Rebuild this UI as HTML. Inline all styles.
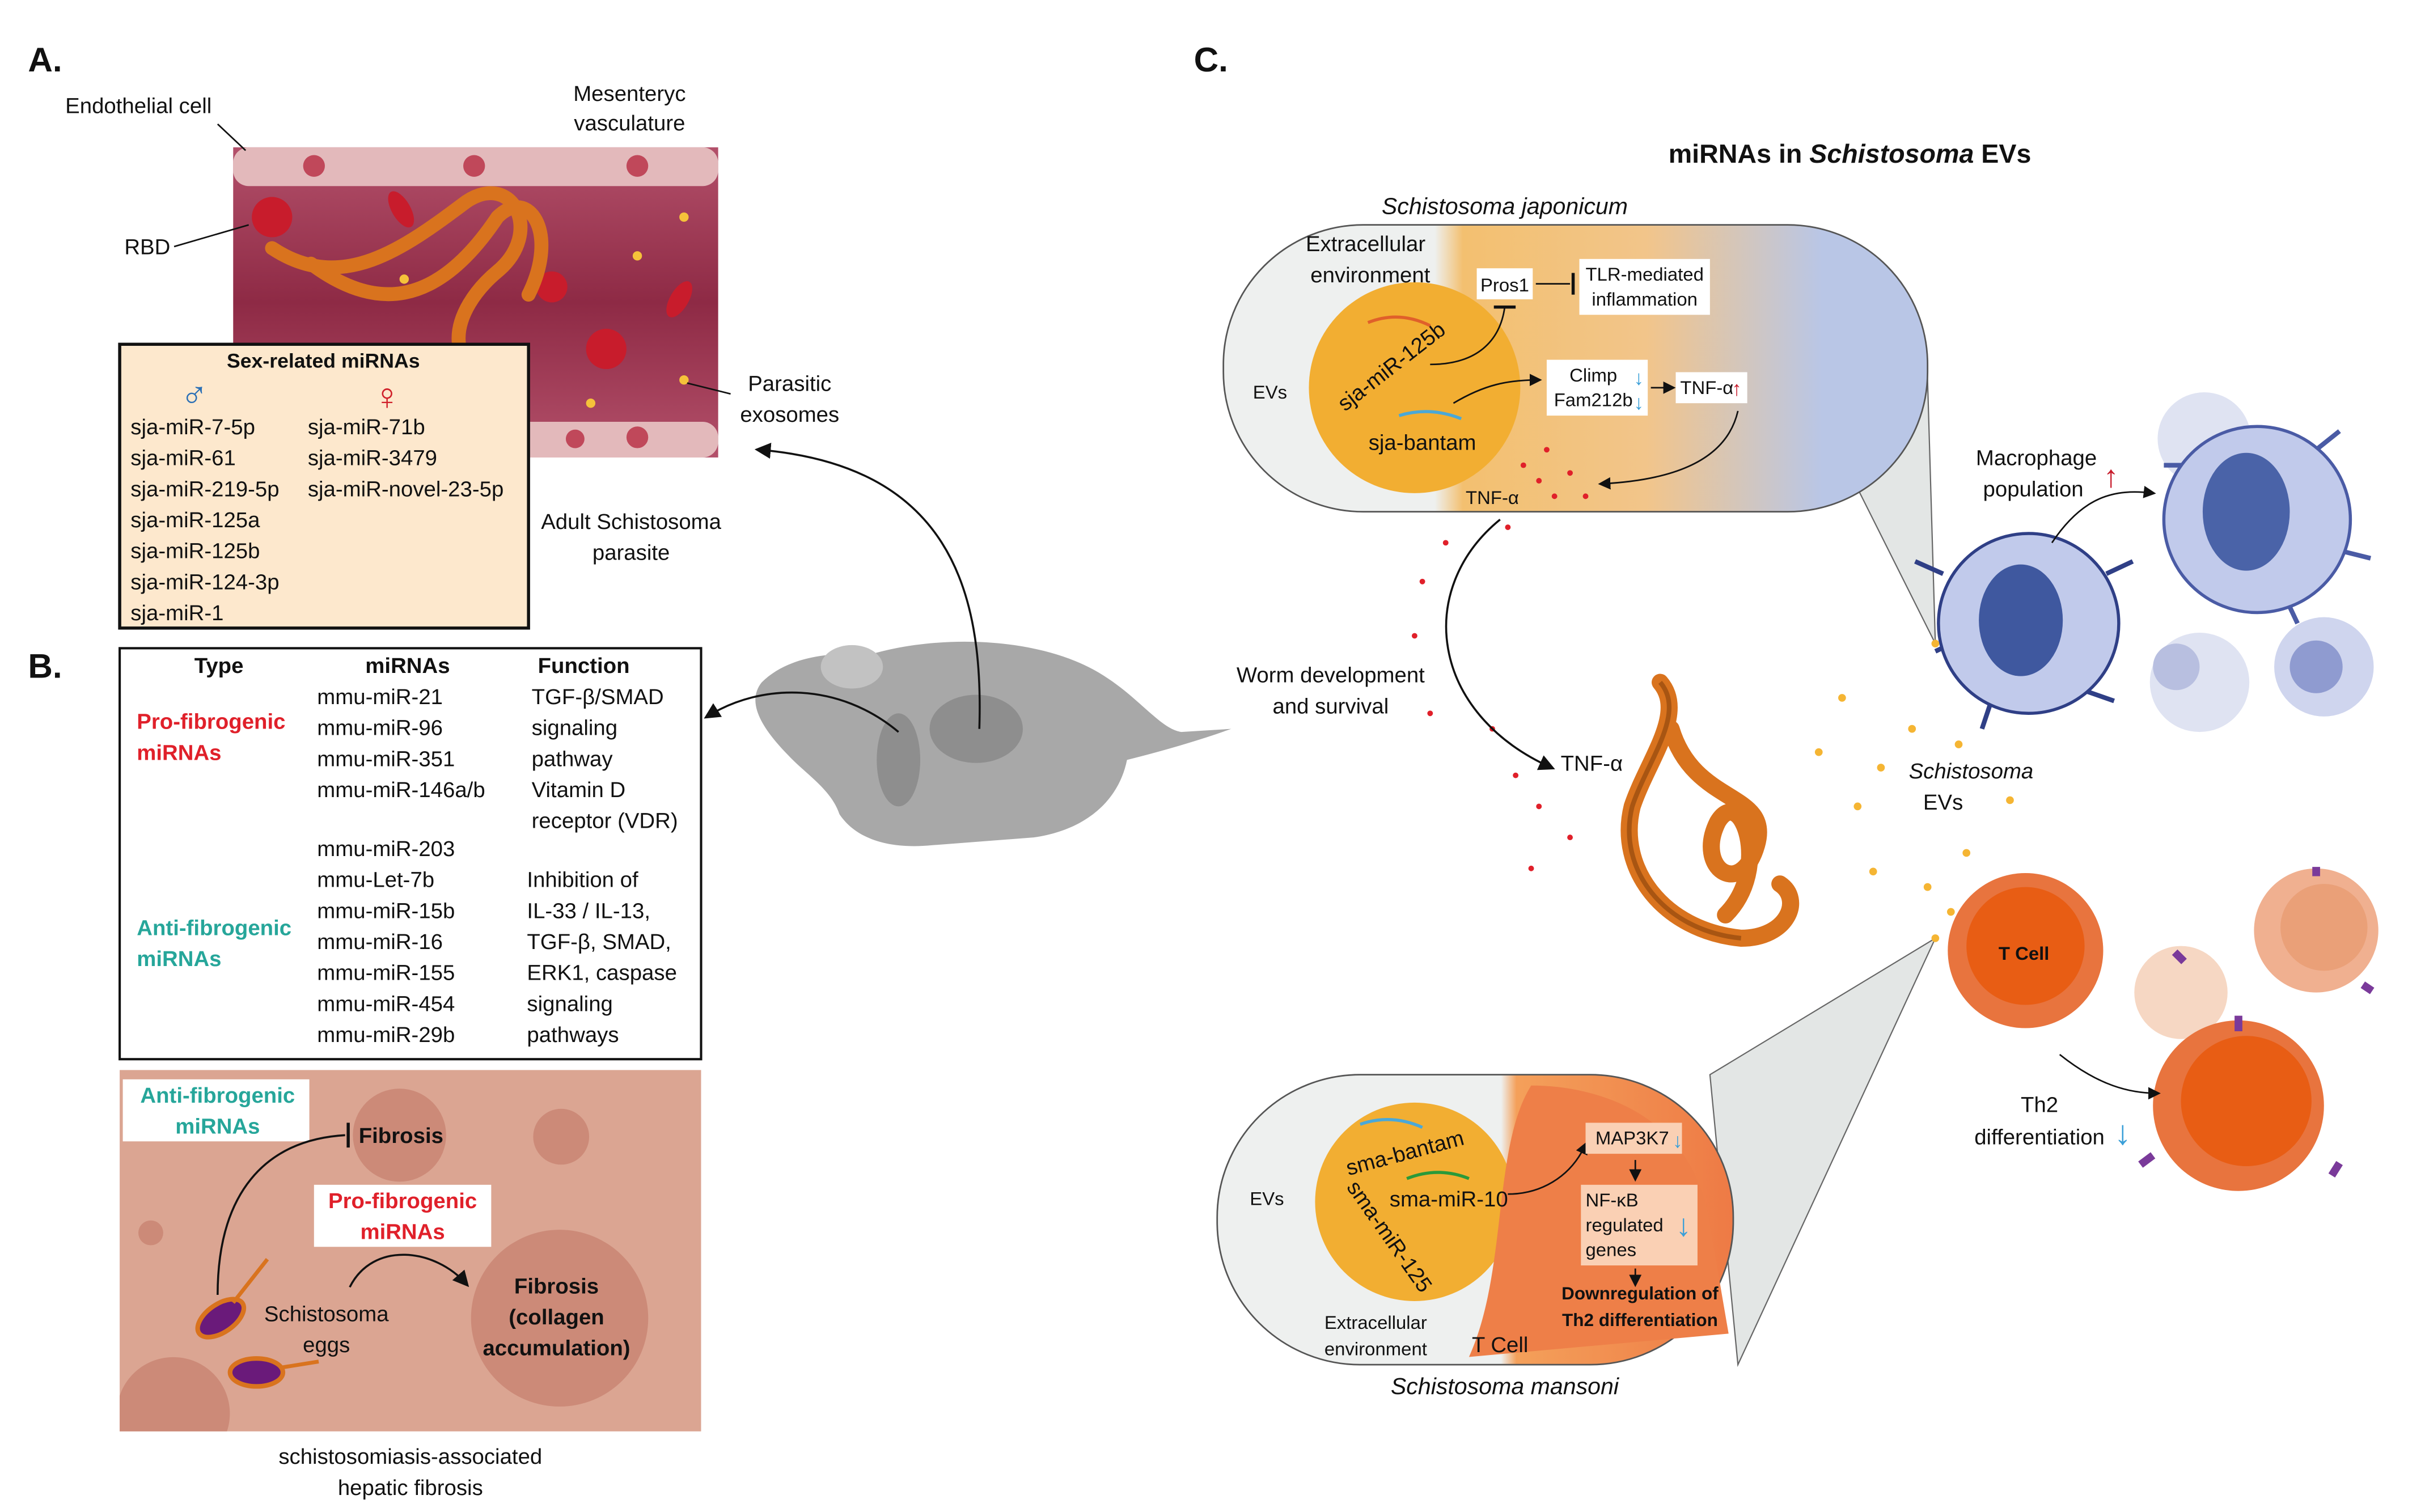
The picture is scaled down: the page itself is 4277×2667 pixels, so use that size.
<!DOCTYPE html>
<html><head><meta charset="utf-8"><style>
html,body{margin:0;padding:0;background:#fff;width:4277px;height:2667px;overflow:hidden}
svg{display:block}
text{font-family:"Liberation Sans",sans-serif;fill:#111}
</style></head><body>
<svg width="4277" height="2667" viewBox="0 0 1560 975" preserveAspectRatio="none" xmlns="http://www.w3.org/2000/svg">
<defs>
<linearGradient id="ves" x1="0" y1="0" x2="0" y2="1"><stop offset="0" stop-color="#b3506a"/><stop offset=".5" stop-color="#8e2a45"/><stop offset="1" stop-color="#b3506a"/></linearGradient>
<linearGradient id="top" x1="0" y1="0" x2="1" y2="0"><stop offset="0" stop-color="#eef0ef"/><stop offset=".3" stop-color="#eef0ef"/><stop offset=".34" stop-color="#f3c070"/><stop offset=".6" stop-color="#f2c58a"/><stop offset=".85" stop-color="#b9c6e6"/><stop offset="1" stop-color="#b9c6e6"/></linearGradient>
<linearGradient id="bot" x1="0" y1="0" x2="1" y2="0"><stop offset="0" stop-color="#eef0ef"/><stop offset=".55" stop-color="#eef0ef"/><stop offset=".58" stop-color="#f4a05a"/><stop offset="1" stop-color="#ee7a45"/></linearGradient>
<marker id="ar" markerWidth="8" markerHeight="8" refX="6" refY="4" orient="auto"><path d="M0,0 L8,4 L0,8 Z" fill="#111"/></marker>
</defs>

<text x="18" y="46" font-size="22" font-weight="bold">A.</text>
<text x="18" y="437" font-size="22" font-weight="bold">B.</text>
<text x="768" y="46" font-size="22" font-weight="bold">C.</text>

<!-- Vessel A -->
<rect x="150" y="95" width="312" height="200" fill="url(#ves)"/>
<rect x="150" y="95" width="312" height="25" rx="10" fill="#e3b9bb"/>
<rect x="150" y="272" width="312" height="23" rx="10" fill="#e3b9bb"/>
<circle cx="202" cy="107" r="7" fill="#c0485a"/><circle cx="305" cy="107" r="7" fill="#c0485a"/><circle cx="410" cy="107" r="7" fill="#c0485a"/>
<circle cx="410" cy="282" r="7" fill="#c0485a"/><circle cx="370" cy="283" r="6" fill="#c0485a"/>
<circle cx="175" cy="140" r="13" fill="#c81c2c"/><circle cx="390" cy="225" r="13" fill="#c81c2c"/><circle cx="355" cy="185" r="10" fill="#c81c2c"/>
<ellipse cx="258" cy="135" rx="6" ry="13" fill="#c81c2c" transform="rotate(-30 258 135)"/>
<ellipse cx="437" cy="193" rx="6" ry="13" fill="#c81c2c" transform="rotate(30 437 193)"/>
<path d="M175,160 C220,190 260,160 300,130 C330,110 350,150 320,175 C290,200 280,240 330,250 M200,170 C240,200 280,200 320,140 C340,120 360,150 340,190" stroke="#d9731e" stroke-width="9" fill="none" stroke-linecap="round"/>
<circle cx="440" cy="140" r="3" fill="#f5c23a"/><circle cx="410" cy="165" r="3" fill="#f5c23a"/><circle cx="260" cy="180" r="3" fill="#f5c23a"/><circle cx="440" cy="245" r="3" fill="#f5c23a"/><circle cx="380" cy="260" r="3" fill="#f5c23a"/>
<text x="42" y="73" font-size="14">Endothelial cell</text>
<line x1="140" y1="80" x2="158" y2="97" stroke="#111"/>
<text x="405" y="65" font-size="14" text-anchor="middle">Mesenteryc</text>
<text x="405" y="84" font-size="14" text-anchor="middle">vasculature</text>
<text x="80" y="164" font-size="14">RBD</text>
<line x1="112" y1="159" x2="160" y2="145" stroke="#111"/>
<text x="508" y="252" font-size="14" text-anchor="middle">Parasitic</text>
<text x="508" y="272" font-size="14" text-anchor="middle">exosomes</text>
<line x1="442" y1="247" x2="470" y2="254" stroke="#111"/>
<text x="406" y="341" font-size="14" text-anchor="middle">Adult Schistosoma</text>
<text x="406" y="361" font-size="14" text-anchor="middle">parasite</text>

<rect x="77" y="222" width="263" height="183" fill="#fde8cd" stroke="#111" stroke-width="2"/>
<text x="208" y="237" font-size="13" font-weight="bold" text-anchor="middle">Sex-related miRNAs</text>
<text x="116" y="262" font-size="24" font-weight="bold" style="fill:#2a6fb5">♂</text>
<text x="240" y="264" font-size="24" font-weight="bold" style="fill:#d0202a">♀</text>
<g font-size="14">
<text x="84" y="280">sja-miR-7-5p</text><text x="84" y="300">sja-miR-61</text><text x="84" y="320">sja-miR-219-5p</text><text x="84" y="340">sja-miR-125a</text><text x="84" y="360">sja-miR-125b</text><text x="84" y="380">sja-miR-124-3p</text><text x="84" y="400">sja-miR-1</text>
<text x="198" y="280">sja-miR-71b</text><text x="198" y="300">sja-miR-3479</text><text x="198" y="320">sja-miR-novel-23-5p</text>
</g>

<rect x="77" y="418" width="374" height="265" fill="#fff" stroke="#111" stroke-width="1.5"/>
<g font-size="14">
<text x="125" y="434" font-weight="bold">Type</text><text x="235" y="434" font-weight="bold">miRNAs</text><text x="346" y="434" font-weight="bold">Function</text>
<text x="88" y="470" style="fill:#e0202a" font-weight="bold">Pro-fibrogenic</text><text x="88" y="490" style="fill:#e0202a" font-weight="bold">miRNAs</text>
<text x="88" y="603" style="fill:#26a69a" font-weight="bold">Anti-fibrogenic</text><text x="88" y="623" style="fill:#26a69a" font-weight="bold">miRNAs</text>
<text x="204" y="454">mmu-miR-21</text><text x="204" y="474">mmu-miR-96</text><text x="204" y="494">mmu-miR-351</text><text x="204" y="514">mmu-miR-146a/b</text>
<text x="204" y="552">mmu-miR-203</text><text x="204" y="572">mmu-Let-7b</text><text x="204" y="592">mmu-miR-15b</text><text x="204" y="612">mmu-miR-16</text><text x="204" y="632">mmu-miR-155</text><text x="204" y="652">mmu-miR-454</text><text x="204" y="672">mmu-miR-29b</text>
<text x="342" y="454">TGF-β/SMAD</text><text x="342" y="474">signaling</text><text x="342" y="494">pathway</text><text x="342" y="514">Vitamin D</text><text x="342" y="534">receptor (VDR)</text>
<text x="339" y="572">Inhibition of</text><text x="339" y="592">IL-33 / IL-13,</text><text x="339" y="612">TGF-β, SMAD,</text><text x="339" y="632">ERK1, caspase</text><text x="339" y="652">signaling</text><text x="339" y="672">pathways</text>
</g>

<rect x="77" y="690" width="374" height="233" fill="#dba592"/>
<circle cx="257" cy="732" r="30" fill="#cc8a78"/><circle cx="361" cy="733" r="18" fill="#cc8a78"/><circle cx="97" cy="795" r="8" fill="#cc8a78"/>
<circle cx="360" cy="850" r="57" fill="#cc8a78"/>
<path d="M77,923 L77,900 A35,35 0 0 1 146,923 Z" fill="#cc8a78"/>
<rect x="79" y="696" width="120" height="40" fill="#fff"/>
<text x="140" y="711" font-size="14" font-weight="bold" text-anchor="middle" style="fill:#26a69a">Anti-fibrogenic</text>
<text x="140" y="731" font-size="14" font-weight="bold" text-anchor="middle" style="fill:#26a69a">miRNAs</text>
<rect x="202" y="764" width="114" height="40" fill="#fff"/>
<text x="259" y="779" font-size="14" font-weight="bold" text-anchor="middle" style="fill:#e0202a">Pro-fibrogenic</text>
<text x="259" y="799" font-size="14" font-weight="bold" text-anchor="middle" style="fill:#e0202a">miRNAs</text>
<text x="258" y="737" font-size="14" font-weight="bold" text-anchor="middle">Fibrosis</text>
<text x="358" y="834" font-size="14" font-weight="bold" text-anchor="middle">Fibrosis</text>
<text x="358" y="854" font-size="14" font-weight="bold" text-anchor="middle">(collagen</text>
<text x="358" y="874" font-size="14" font-weight="bold" text-anchor="middle">accumulation)</text>
<text x="210" y="852" font-size="14" text-anchor="middle">Schistosoma</text>
<text x="210" y="872" font-size="14" text-anchor="middle">eggs</text>
<path d="M140,835 C140,770 170,735 222,732" stroke="#111" stroke-width="1.3" fill="none"/>
<line x1="224" y1="724" x2="224" y2="740" stroke="#111" stroke-width="2"/>
<path d="M225,830 C240,800 280,805 300,828" stroke="#111" stroke-width="1.3" fill="none" marker-end="url(#ar)"/>
<ellipse cx="142" cy="850" rx="17" ry="9" fill="#6a1a7a" stroke="#d9731e" stroke-width="3" transform="rotate(-35 142 850)"/>
<path d="M150,840 L172,812" stroke="#d9731e" stroke-width="2.5"/>
<ellipse cx="165" cy="885" rx="17" ry="9" fill="#6a1a7a" stroke="#d9731e" stroke-width="3"/>
<path d="M180,882 L205,878" stroke="#d9731e" stroke-width="2.5"/>
<text x="264" y="944" font-size="14" text-anchor="middle">schistosomiasis-associated</text>
<text x="264" y="964" font-size="14" text-anchor="middle">hepatic fibrosis</text>

<!-- Mouse (facing left) -->
<path d="M490,440 C505,425 530,420 560,422 C600,410 660,410 700,430 C730,445 745,470 760,472 L792,470 C770,478 745,485 725,490 C720,515 700,535 665,540 L600,545 C570,548 550,540 540,525 C535,510 520,500 510,490 C495,475 478,455 490,440 Z" fill="#a8a8a8"/>
<ellipse cx="548" cy="430" rx="20" ry="14" fill="#c2c2c2"/>
<ellipse cx="628" cy="470" rx="30" ry="22" fill="#8e8e8e"/>
<ellipse cx="578" cy="490" rx="14" ry="30" fill="#8e8e8e"/>
<path d="M630,470 C633,380 610,300 488,290" stroke="#111" stroke-width="1.3" fill="none" marker-end="url(#ar)"/>
<path d="M578,472 C540,440 490,440 455,462" stroke="#111" stroke-width="1.3" fill="none" marker-end="url(#ar)"/>

<!-- Panel C -->
<text x="1190" y="105" font-size="17" font-weight="bold" text-anchor="middle">miRNAs in <tspan font-style="italic">Schistosoma</tspan> EVs</text>
<text x="968" y="138" font-size="15" font-style="italic" text-anchor="middle">Schistosoma japonicum</text>
<!-- cones behind -->
<path d="M1135,195 L1245,415 L1240,245 Z" fill="#e3e6e5" stroke="#666" stroke-width="0.8"/>
<path d="M1245,605 L1100,693 L1118,880 Z" fill="#e3e6e5" stroke="#666" stroke-width="0.8"/>
<rect x="787" y="145" width="453" height="185" rx="90" fill="url(#top)" stroke="#555" stroke-width="1"/>
<circle cx="910" cy="250" r="68" fill="#f2ae32"/>
<text x="840" y="162" font-size="14">Extracellular</text><text x="843" y="182" font-size="14">environment</text>
<text x="806" y="257" font-size="12">EVs</text>
<text x="898" y="240" font-size="14" transform="rotate(-38 898 240)" text-anchor="middle">sja-miR-125b</text>
<text x="915" y="290" font-size="14" text-anchor="middle">sja-bantam</text>
<path d="M880,208 Q900,200 920,210" stroke="#e0602a" stroke-width="2" fill="none"/>
<path d="M900,268 Q920,262 940,270" stroke="#4aa8d8" stroke-width="2" fill="none"/>
<rect x="950" y="173" width="36" height="20" fill="#fff"/><text x="968" y="188" font-size="12" text-anchor="middle">Pros1</text>
<rect x="1016" y="167" width="84" height="36" fill="#fff"/><text x="1058" y="181" font-size="12" text-anchor="middle">TLR-mediated</text><text x="1058" y="197" font-size="12" text-anchor="middle">inflammation</text>
<line x1="988" y1="183" x2="1010" y2="183" stroke="#111"/><line x1="1012" y1="176" x2="1012" y2="190" stroke="#111" stroke-width="2"/>
<path d="M920,235 C950,235 965,220 968,198" stroke="#111" fill="none"/><line x1="961" y1="198" x2="975" y2="198" stroke="#111" stroke-width="2"/>
<rect x="995" y="232" width="65" height="36" fill="#fff"/><text x="1025" y="246" font-size="12" text-anchor="middle">Climp</text><text x="1025" y="262" font-size="12" text-anchor="middle">Fam212b</text>
<text x="1051" y="248" font-size="13" font-weight="bold" style="fill:#3a9fd8">↓</text><text x="1051" y="264" font-size="13" font-weight="bold" style="fill:#3a9fd8">↓</text>
<path d="M935,260 C955,248 970,245 990,245" stroke="#111" fill="none" marker-end="url(#ar)"/>
<line x1="1062" y1="250" x2="1076" y2="250" stroke="#111" marker-end="url(#ar)"/>
<rect x="1078" y="240" width="46" height="20" fill="#fff"/><text x="1098" y="254" font-size="12" text-anchor="middle">TNF-α</text>
<text x="1114" y="255" font-size="13" font-weight="bold" style="fill:#c81c2c">↑</text>
<path d="M1118,265 C1110,300 1070,310 1030,312" stroke="#111" fill="none" marker-end="url(#ar)"/>
<text x="960" y="325" font-size="12" text-anchor="middle">TNF-α</text>
<g fill="#e0202a">
<circle cx="980" cy="300" r="1.8"/><circle cx="990" cy="310" r="1.8"/><circle cx="1000" cy="320" r="1.8"/><circle cx="1010" cy="305" r="1.8"/><circle cx="970" cy="340" r="1.8"/><circle cx="930" cy="350" r="1.8"/><circle cx="915" cy="375" r="1.8"/><circle cx="910" cy="410" r="1.8"/><circle cx="960" cy="470" r="1.8"/><circle cx="990" cy="520" r="1.8"/><circle cx="1010" cy="540" r="1.8"/><circle cx="975" cy="500" r="1.8"/><circle cx="1020" cy="320" r="1.8"/><circle cx="995" cy="290" r="1.8"/><circle cx="920" cy="460" r="1.8"/><circle cx="985" cy="560" r="1.8"/>
</g>
<path d="M965,335 C910,380 920,460 998,495" stroke="#111" stroke-width="1.3" fill="none" marker-end="url(#ar)"/>
<text x="856" y="440" font-size="14" text-anchor="middle">Worm development</text><text x="856" y="460" font-size="14" text-anchor="middle">and survival</text>
<text x="1004" y="497" font-size="14">TNF-α</text>
<!-- worm -->
<path d="M1068,440 C1085,460 1060,490 1050,520 C1040,560 1070,600 1120,605 C1150,605 1160,580 1145,570 M1075,470 C1090,520 1140,510 1130,545 C1120,580 1090,560 1105,530 C1120,505 1140,560 1110,590" stroke="#d9731e" stroke-width="11" fill="none" stroke-linecap="round"/>
<path d="M1068,440 C1085,460 1060,490 1050,520 C1040,560 1070,600 1120,605" stroke="#a85512" stroke-width="3" fill="none"/>
<!-- Macrophages -->
<g>
<circle cx="1418" cy="283" r="30" fill="#dfe3f2"/>
<circle cx="1415" cy="440" r="32" fill="#dfe3f2"/><circle cx="1400" cy="430" r="15" fill="#b8bfe0"/>
<circle cx="1495" cy="430" r="32" fill="#cfd5ee"/><circle cx="1490" cy="430" r="17" fill="#8f9bd0"/>
<path d="M1392,300 L1405,300 M1505,355 L1525,360 M1470,385 L1478,402 M1490,290 L1505,278" stroke="#4a5ba5" stroke-width="3"/>
<circle cx="1452" cy="335" r="60" fill="#c1caeb" stroke="#4a5ba5" stroke-width="2"/><ellipse cx="1445" cy="330" rx="28" ry="38" fill="#4a63a8"/>
<path d="M1245,420 L1262,412 M1340,445 L1360,452 M1280,455 L1275,470 M1355,370 L1372,362 M1250,370 L1232,362" stroke="#2f3f86" stroke-width="3"/>
<circle cx="1305" cy="402" r="58" fill="#c1caeb" stroke="#2f3f86" stroke-width="2"/><ellipse cx="1300" cy="400" rx="27" ry="36" fill="#3f589f"/>
</g>
<text x="1310" y="300" font-size="14" text-anchor="middle">Macrophage</text><text x="1308" y="320" font-size="14" text-anchor="middle">population</text>
<text x="1353" y="314" font-size="20" style="fill:#c81c2c" font-weight="bold">↑</text>
<path d="M1320,350 C1340,320 1360,315 1385,318" stroke="#111" fill="none" marker-end="url(#ar)"/>
<g fill="#f5b533">
<circle cx="1245" cy="415" r="2.5"/><circle cx="1185" cy="450" r="2.5"/><circle cx="1230" cy="470" r="2.5"/><circle cx="1170" cy="485" r="2.5"/><circle cx="1260" cy="480" r="2.5"/><circle cx="1210" cy="495" r="2.5"/><circle cx="1195" cy="520" r="2.5"/><circle cx="1293" cy="516" r="2.5"/><circle cx="1265" cy="550" r="2.5"/><circle cx="1240" cy="572" r="2.5"/><circle cx="1205" cy="562" r="2.5"/><circle cx="1255" cy="588" r="2.5"/><circle cx="1245" cy="605" r="2.5"/>
</g>
<text x="1268" y="502" font-size="14" font-style="italic" text-anchor="middle">Schistosoma</text><text x="1250" y="522" font-size="14" text-anchor="middle">EVs</text>
<!-- T cells -->
<circle cx="1303" cy="613" r="50" fill="#e8743e"/><circle cx="1303" cy="610" r="38" fill="#e85d14"/>
<text x="1302" y="619" font-size="12" font-weight="bold" text-anchor="middle">T Cell</text>
<circle cx="1403" cy="640" r="30" fill="#f6d7c3"/><circle cx="1490" cy="600" r="40" fill="#f0b090"/><circle cx="1495" cy="598" r="28" fill="#eaa078"/>
<circle cx="1440" cy="713" r="55" fill="#e8743e"/><circle cx="1445" cy="710" r="42" fill="#e85d14"/>
<path d="M1440,655 l0,10 M1500,758 l5,-8 M1385,745 l-8,6 M1520,635 l6,4 M1405,620 l-6,-6 M1490,565 l0,-6" stroke="#7a3a9a" stroke-width="5"/>
<path d="M1325,680 C1350,700 1370,705 1388,705" stroke="#111" fill="none" marker-end="url(#ar)"/>
<text x="1312" y="717" font-size="14" text-anchor="middle">Th2</text><text x="1312" y="738" font-size="14" text-anchor="middle">differentiation</text>
<text x="1360" y="738" font-size="22" style="fill:#3a9fd8" font-weight="bold">↓</text>
<!-- bottom capsule -->
<rect x="783" y="693" width="332" height="187" rx="92" fill="url(#bot)" stroke="#555" stroke-width="1"/>
<circle cx="910" cy="775" r="64" fill="#f2ae32"/>
<path d="M985,700 C1030,700 1090,720 1100,790 L1112,860 L945,875 C970,820 960,740 985,700Z" fill="#ee7f48"/>
<text x="804" y="777" font-size="12">EVs</text>
<text x="905" y="748" font-size="14" text-anchor="middle" transform="rotate(-15 905 748)">sma-bantam</text>
<text x="932" y="778" font-size="14" text-anchor="middle">sma-miR-10</text>
<text x="890" y="800" font-size="14" text-anchor="middle" transform="rotate(55 890 800)">sma-miR-125</text>
<path d="M875,725 Q895,718 915,727" stroke="#4aa8d8" stroke-width="2" fill="none"/>
<path d="M905,760 Q925,752 945,760" stroke="#2a9a3a" stroke-width="2" fill="none"/>
<path d="M970,770 C990,770 1010,760 1020,738" stroke="#111" fill="none" marker-end="url(#ar)"/>
<rect x="1020" y="724" width="62" height="20" fill="#fad0b4"/><text x="1050" y="738" font-size="12" text-anchor="middle">MAP3K7</text>
<text x="1076" y="740" font-size="13" font-weight="bold" style="fill:#3a9fd8">↓</text>
<line x1="1052" y1="748" x2="1052" y2="760" stroke="#111" marker-end="url(#ar)"/>
<rect x="1017" y="764" width="75" height="52" fill="#fad0b4"/>
<text x="1020" y="778" font-size="12">NF-κB</text><text x="1020" y="794" font-size="12">regulated</text><text x="1020" y="810" font-size="12">genes</text>
<text x="1078" y="797" font-size="20" style="fill:#3a9fd8" font-weight="bold">↓</text>
<line x1="1052" y1="818" x2="1052" y2="828" stroke="#111" marker-end="url(#ar)"/>
<text x="1055" y="838" font-size="11.5" font-weight="bold" text-anchor="middle">Downregulation of</text>
<text x="1055" y="855" font-size="11.5" font-weight="bold" text-anchor="middle">Th2 differentiation</text>
<text x="885" y="857" font-size="12" text-anchor="middle">Extracellular</text><text x="885" y="874" font-size="12" text-anchor="middle">environment</text>
<text x="965" y="872" font-size="14" text-anchor="middle">T Cell</text>
<text x="968" y="899" font-size="15" font-style="italic" text-anchor="middle">Schistosoma mansoni</text>
</svg>
</body></html>
